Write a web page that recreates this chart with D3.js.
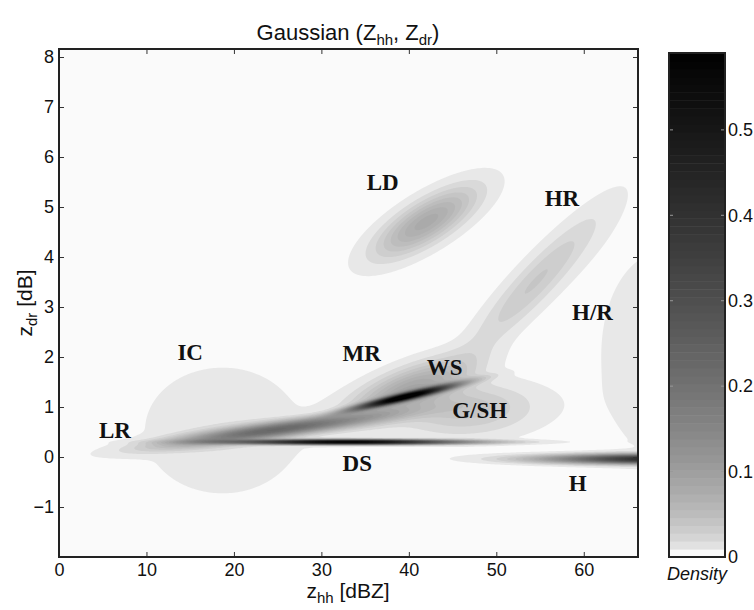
<!DOCTYPE html>
<html>
<head>
<meta charset="utf-8">
<script src="https://cdn.jsdelivr.net/npm/d3@7"></script>
<style>
body { margin: 0; background: #fff; }
text { font-family: "Liberation Sans", Arial, sans-serif; fill: #111; }
.cls { font-family: "Liberation Serif", "Times New Roman", serif;
       font-weight: bold; font-size: 23px; }
</style>
</head>
<body>
<svg id="chart" width="754" height="610"></svg>
<script>
// Gaussian class models in (Zhh, Zdr) space
var classNames = ["LR", "IC", "DS", "MR", "WS", "G/SH", "LD", "HR", "H/R", "H"];
var meanZhh = [25, 18.7, 33, 40, 39.5, 46.5, 42, 54.5, 69, 70];
var meanZdr = [0.55, 0.53, 0.3, 1.35, 1.2, 0.95, 4.7, 3.5, 2.05, -0.04];
var sdZhh   = [7.6, 6.7, 8, 4.5, 3.6, 5.2, 3.8, 4.97, 5.57, 8.3];
var sdZdr   = [0.2, 0.95, 0.03, 0.4, 0.156, 0.35, 0.46, 0.92, 1.63, 0.06];
var rho     = [0.87, 0, 0, 0.7, 0.947, 0.1, 0.75, 0.92, 0, 0];
var peak    = [0.22, 0.012, 0.6, 0.08, 0.6, 0.04, 0.08, 0.036, 0.011, 0.45];

// where each class name is written
var labelZhh = [6.4, 15.0, 34.1, 34.6, 44.1, 48.1, 37.0, 57.5, 61.0, 59.3];
var labelZdr = [0.54, 2.1, -0.12, 2.08, 1.8, 0.94, 5.5, 5.18, 2.9, -0.52];

// axis ticks
var xTicks = [0, 10, 20, 30, 40, 50, 60];
var yTicks = [-1, 0, 1, 2, 3, 4, 5, 6, 7, 8];
var cTicks = [0, 0.1, 0.2, 0.3, 0.4, 0.5];

var margin = {left: 59, top: 49},
    width = 579,
    height = 508;

var svg = d3.select("#chart");

var x = d3.scaleLinear().domain([0, 66.2]).range([0, width]);
var y = d3.scaleLinear().domain([-2, 8.16]).range([height, 0]);

// gray colormap, darkens quickly at the low end
var dMax = 0.59;
var grayLevel = d3.scalePow().exponent(0.55).domain([0, dMax])
    .range([250, 0]).clamp(true);
function gray(v) {
    var g = Math.round(grayLevel(v));
    return d3.rgb(g, g, g).toString();
}

function density(zh, zd) {
    var s = 0;
    for (var k = 0; k < meanZhh.length; k++) {
        var dx = (zh - meanZhh[k]) / sdZhh[k];
        var dy = (zd - meanZdr[k]) / sdZdr[k];
        var r = rho[k];
        var q = (dx * dx - 2 * r * dx * dy + dy * dy) / (1 - r * r);
        s += peak[k] * Math.exp(-0.5 * q);
    }
    return s;
}

var plot = svg.append("g")
    .attr("transform", "translate(" + margin.left + "," + margin.top + ")");

plot.append("rect")
    .attr("width", width)
    .attr("height", height)
    .attr("fill", gray(0));

// density grid, filled contours
var nx = 290, ny = 508;
var cw = width / nx, ch = height / ny;
var grid = new Float64Array(nx * ny);
for (var j = 0; j < ny; j++) {
    var zd = y.invert((j + 0.5) * ch);
    for (var i = 0; i < nx; i++) {
        grid[j * nx + i] = density(x.invert((i + 0.5) * cw), zd);
    }
}
var levels = d3.range(0.005, dMax, 0.01);
var bands = d3.contours().size([nx, ny]).thresholds(levels)(grid);
var path = d3.geoPath(d3.geoTransform({
    point: function(px, py) { this.stream.point(px * cw, py * ch); }
}));

plot.selectAll("path.band")
    .data(bands)
    .join("path")
    .attr("class", "band")
    .attr("d", path)
    .attr("fill", function(d) { return gray(d.value); });

// class names
plot.selectAll("text.cls")
    .data(classNames)
    .join("text")
    .attr("class", "cls")
    .attr("x", function(d, k) { return x(labelZhh[k]); })
    .attr("y", function(d, k) { return y(labelZdr[k]); })
    .attr("dy", "0.35em")
    .attr("text-anchor", "middle")
    .text(function(d) { return d; });

// axes, ticks pointing inward
plot.append("g")
    .attr("transform", "translate(0," + height + ")")
    .call(d3.axisBottom(x).tickValues(xTicks).tickSize(-5).tickPadding(6));
plot.append("g")
    .call(d3.axisLeft(y).tickValues(yTicks).tickSize(-5).tickPadding(5)
        .tickFormat(function(d) { return d < 0 ? "\u2212" + (-d) : d; }));
plot.append("g")
    .attr("transform", "translate(" + width + ",0)")
    .call(d3.axisRight(y).tickValues(yTicks).tickSize(-5).tickFormat(""));
plot.append("g")
    .call(d3.axisTop(x).tickValues(xTicks).tickSize(-5).tickFormat(""));

plot.selectAll(".domain").remove();
plot.selectAll(".tick line").attr("stroke", "#333");
plot.selectAll(".tick text")
    .style("font-family", "'Liberation Sans', Arial, sans-serif")
    .style("font-size", "18px")
    .attr("fill", "#111");

plot.append("rect")
    .attr("width", width)
    .attr("height", height)
    .attr("fill", "none")
    .attr("stroke", "#222")
    .attr("stroke-width", 2);

// title and axis labels
var title = svg.append("text")
    .attr("x", 348)
    .attr("y", 40)
    .attr("text-anchor", "middle")
    .style("font-size", "22px");
title.append("tspan").text("Gaussian (Z");
title.append("tspan").attr("dy", 5).style("font-size", "15px").text("hh");
title.append("tspan").attr("dy", -5).text(", Z");
title.append("tspan").attr("dy", 5).style("font-size", "15px").text("dr");
title.append("tspan").attr("dy", -5).text(")");

var xLabel = svg.append("text")
    .attr("x", 348)
    .attr("y", 598)
    .attr("text-anchor", "middle")
    .style("font-size", "21px");
xLabel.append("tspan").text("z");
xLabel.append("tspan").attr("dy", 5).style("font-size", "15px").text("hh");
xLabel.append("tspan").attr("dy", -5).text(" [dBZ]");

var yLabel = svg.append("text")
    .attr("transform", "translate(32," + (margin.top + height / 2) + ") rotate(-90)")
    .attr("text-anchor", "middle")
    .style("font-size", "21px");
yLabel.append("tspan").text("z");
yLabel.append("tspan").attr("dy", 5).style("font-size", "15px").text("dr");
yLabel.append("tspan").attr("dy", -5).text(" [dB]");

// colorbar
var cb = {left: 669, top: 53, width: 56, height: 504};
var c = d3.scaleLinear().domain([0, dMax]).range([cb.height, 0]);
var cbar = svg.append("g")
    .attr("transform", "translate(" + cb.left + "," + cb.top + ")");
var step = dMax / 64;
cbar.selectAll("rect.step")
    .data(d3.range(0, dMax, step))
    .join("rect")
    .attr("class", "step")
    .attr("x", 0)
    .attr("width", cb.width)
    .attr("y", function(d) { return c(Math.min(d + step, dMax)); })
    .attr("height", function(d) {
        return c(d) - c(Math.min(d + step, dMax)) + 0.5;
    })
    .attr("fill", function(d) { return gray(d); });

cbar.selectAll("line.cl")
    .data(cTicks.slice(1))
    .join("line")
    .attr("class", "cl")
    .attr("x1", 0).attr("x2", 4)
    .attr("y1", function(d) { return c(d); })
    .attr("y2", function(d) { return c(d); })
    .attr("stroke", "#999");
cbar.selectAll("line.cr")
    .data(cTicks.slice(1))
    .join("line")
    .attr("class", "cr")
    .attr("x1", cb.width - 4).attr("x2", cb.width)
    .attr("y1", function(d) { return c(d); })
    .attr("y2", function(d) { return c(d); })
    .attr("stroke", "#999");

cbar.append("rect")
    .attr("width", cb.width)
    .attr("height", cb.height)
    .attr("fill", "none")
    .attr("stroke", "#222")
    .attr("stroke-width", 2);

cbar.selectAll("text.ct")
    .data(cTicks)
    .join("text")
    .attr("class", "ct")
    .attr("x", cb.width + 3)
    .attr("y", function(d) { return c(d); })
    .attr("dy", "0.35em")
    .style("font-size", "18px")
    .text(function(d) { return d; });

cbar.append("text")
    .attr("x", cb.width / 2)
    .attr("y", cb.height + 23)
    .attr("text-anchor", "middle")
    .style("font-size", "18px")
    .style("font-style", "italic")
    .text("Density");
</script>
</body>
</html>
